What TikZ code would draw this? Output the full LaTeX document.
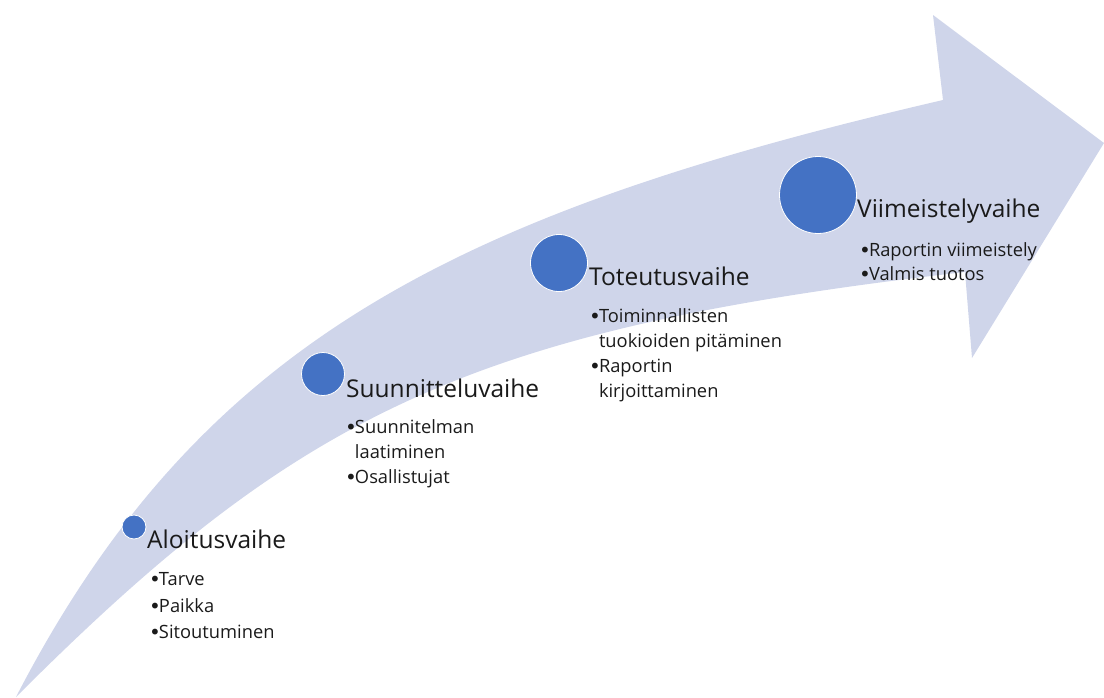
\documentclass[tikz,border=0pt]{standalone}
\usepackage{fontspec}
\setmainfont{Open Sans}
\newfontfamily\bulfont{DejaVu Sans}
\newcommand{\bu}{\raisebox{-1.3pt}{\bulfont\fontsize{20}{21}\selectfont •}\kern-2pt}
\definecolor{band}{HTML}{CFD5EA}
\definecolor{dot}{HTML}{4472C4}
\definecolor{txt}{HTML}{1A1A1A}
\tikzset{
  phase/.style={circle, fill=dot, draw=white, line width=0.8pt, inner sep=0pt},
  ttl/.style={anchor=base west, inner sep=0pt, text=txt, font=\fontsize{24.5}{28}\selectfont},
  itm/.style={anchor=base west, inner sep=0pt, text=txt, font=\fontsize{18.3}{21}\selectfont},
}
\begin{document}
\begin{tikzpicture}[x=1pt,y=-1pt]
\useasboundingbox (0,0) rectangle (1104,697);
% curved arrow band
\fill[band] (16,697) .. controls (200,341) and (456,213) .. (943,100)
  -- (933,15) -- (1104,143) -- (972,358) -- (965,272)
  .. controls (468,329) and (299,414) .. (16,697) -- cycle;
% circles
\node[phase, minimum size=24pt] (c1) at (134,527) {};
\node[phase, minimum size=43pt] (c2) at (323,374) {};
\node[phase, minimum size=57pt] (c3) at (559,263) {};
\node[phase, minimum size=77pt] (c4) at (818,195) {};
% phase 1
\node[ttl] (t1) at (147,548) {Aloitusvaihe};
\node[itm] (t1a) at (149,585) {\bu Tarve};
\node[itm] (t1b) at (149,612) {\bu Paikka};
\node[itm] (t1c) at (149,638) {\bu Sitoutuminen};
% phase 2
\node[ttl] (t2) at (346,397) {Suunnitteluvaihe};
\node[itm] (t2a) at (345,433) {\bu Suunnitelman};
\node[itm] (t2b) at (345,458) {\phantom{\bu}laatiminen};
\node[itm] (t2c) at (345,483) {\bu Osallistujat};
% phase 3
\node[ttl] (t3) at (589,285) {Toteutusvaihe};
\node[itm] (t3a) at (589,322) {\bu Toiminnallisten};
\node[itm] (t3b) at (589,347) {\phantom{\bu}tuokioiden pitäminen};
\node[itm] (t3c) at (589,372) {\bu Raportin};
\node[itm] (t3d) at (589,397) {\phantom{\bu}kirjoittaminen};
% phase 4
\node[ttl] (t4) at (857,217) {Viimeistelyvaihe};
\node[itm] (t4a) at (859,256) {\bu Raportin viimeistely};
\node[itm] (t4b) at (859,280) {\bu Valmis tuotos};
\end{tikzpicture}
\end{document}
